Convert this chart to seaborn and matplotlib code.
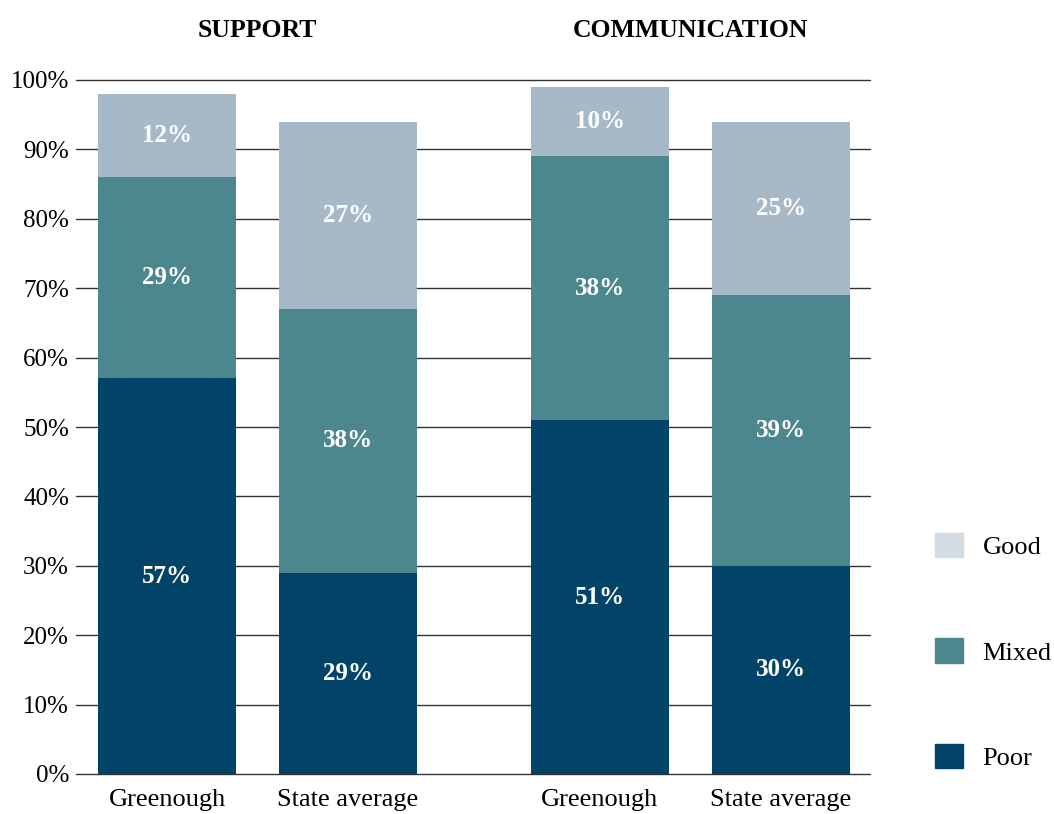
import matplotlib
matplotlib.use("Agg")
import matplotlib.pyplot as plt
import seaborn as sns
import pandas as pd
from matplotlib.patches import Patch

# ── data ──────────────────────────────────────────────
groups = ["SUPPORT", "SUPPORT", "COMMUNICATION", "COMMUNICATION"]
bars = ["Greenough", "State average", "Greenough", "State average"]
positions = [0.0, 1.0, 2.39, 3.39]
poor = [57, 29, 51, 30]
mixed = [29, 38, 38, 39]
good = [12, 27, 10, 25]

colors = {"Good": "#a7b9c6", "Mixed": "#4d878e", "Poor": "#024467"}
legend_good = "#d3dce3"

df = pd.DataFrame({"pos": positions, "label": bars, "group": groups,
                   "poor": poor, "mixed": mixed, "good": good})
df["lvl_poor"] = df["poor"]
df["lvl_mixed"] = df["poor"] + df["mixed"]
df["lvl_good"] = df["lvl_mixed"] + df["good"]

# ── style ─────────────────────────────────────────────
sns.set_style("white")
plt.rcParams["font.family"] = ["Liberation Serif", "DejaVu Serif"]
plt.rcParams["text.color"] = "black"
plt.rcParams["xtick.color"] = "black"
plt.rcParams["ytick.color"] = "black"

fig = plt.figure(figsize=(10.54, 8.14), dpi=100)
ax = fig.add_axes([76 / 1054, 1 - 774 / 814, 794 / 1054, 694 / 814])

# stacked bars: draw cumulative totals back to front
bw = 0.762
for col, key in [("lvl_good", "Good"), ("lvl_mixed", "Mixed"), ("lvl_poor", "Poor")]:
    sns.barplot(data=df, x="pos", y=col, native_scale=True, width=bw,
                color=colors[key], saturation=1, errorbar=None, ax=ax,
                linewidth=0, zorder=3)

# value labels
for _, r in df.iterrows():
    for lo, val in [(0, r["poor"]), (r["lvl_poor"], r["mixed"]), (r["lvl_mixed"], r["good"])]:
        ax.text(r["pos"], lo + val / 2, f"{val}%", ha="center", va="center",
                color="white", fontsize=18, fontweight="bold", zorder=5)

# group titles
for g in ["SUPPORT", "COMMUNICATION"]:
    xs = df.loc[df["group"] == g, "pos"]
    ax.text(xs.mean(), 1.072, g, transform=ax.get_xaxis_transform(),
            ha="center", va="center", fontsize=18.5, fontweight="bold")

# axes / grid
ax.set_xlim(-0.503, 3.884)
ax.set_ylim(0, 100)
ax.set_yticks(range(0, 101, 10))
ax.set_yticklabels([f"{v}%" for v in range(0, 101, 10)], fontsize=18)
ax.set_xticks(positions)
ax.set_xticklabels(bars, fontsize=19)
ax.tick_params(axis="y", length=0, pad=5)
ax.tick_params(axis="x", length=0, pad=11)
for v in range(0, 101, 10):
    ax.axhline(v, color="#333333", lw=1, zorder=4 if v == 0 else 1, clip_on=False)
for s in ax.spines.values():
    s.set_visible(False)
ax.set_xlabel("")
ax.set_ylabel("")

# legend
handles = [Patch(color=legend_good, label="Good"),
           Patch(color=colors["Mixed"], label="Mixed"),
           Patch(color=colors["Poor"], label="Poor")]
fig.legend(handles=handles, loc="lower left", bbox_to_anchor=(935 / 1054, 1 - 770 / 814),
           frameon=False, fontsize=19, handlelength=1.05, handleheight=1.05,
           labelspacing=3.0, handletextpad=0.75, borderpad=0, borderaxespad=0)

fig.savefig("out.png", dpi=100)
